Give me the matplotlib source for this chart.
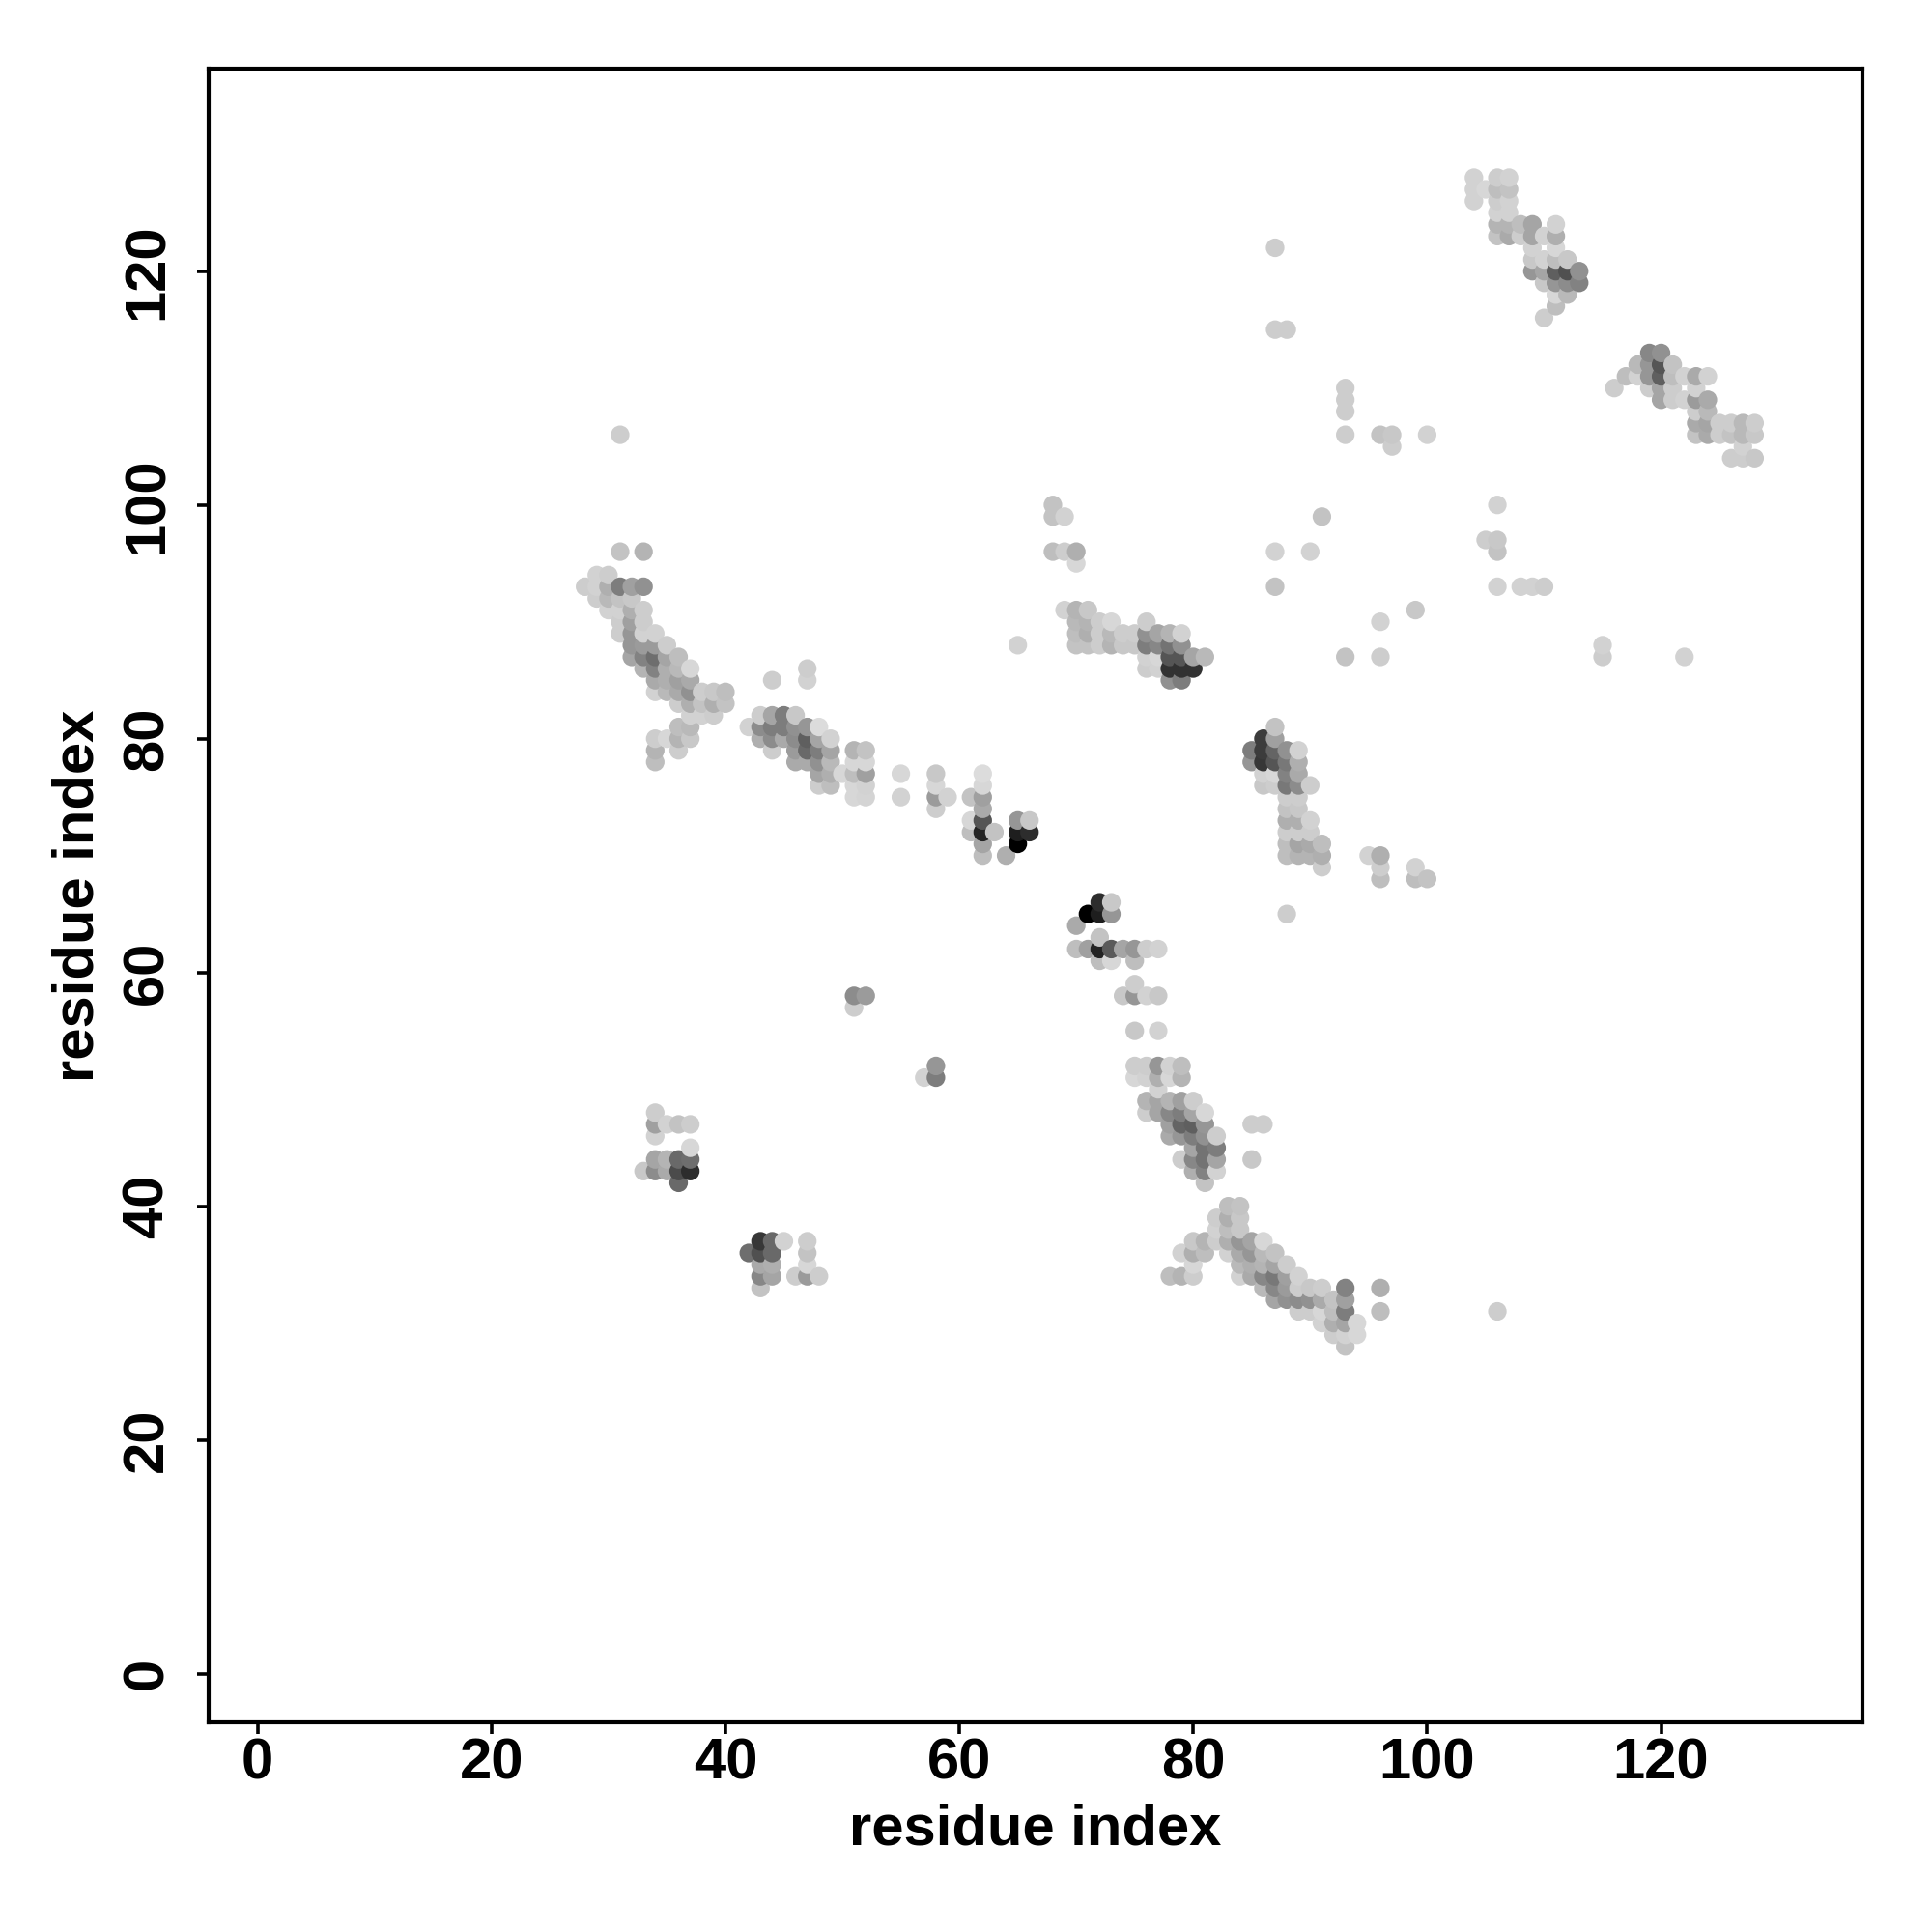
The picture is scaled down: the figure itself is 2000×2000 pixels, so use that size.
import matplotlib
matplotlib.use('Agg')
import matplotlib.pyplot as plt

# contacts: (residue x, residue y, grey level 0-255)
strand_a = [
    (31,96,195),(33,96,180),(29,94,210),(30,94,205),
    (28,93,205),(29,93,210),(30,93,175),(31,93,125),(32,93,160),(33,93,145),
    (29,92,205),(30,92,185),(31,92,195),(32,92,200),
    (30,91,210),(31,91,210),(32,91,175),(33,91,205),
    (31,90,205),(32,90,160),(33,90,205),
    (31,89,205),(32,89,150),(33,89,210),(34,89,210),
    (32,88,150),(33,88,155),(34,88,155),(35,88,205),
    (32,87,165),(33,87,130),(34,87,110),(35,87,165),(36,87,190),
    (33,86,180),(34,86,130),(35,86,175),(36,86,185),(37,86,215),
    (34,85,170),(35,85,175),(36,85,160),(37,85,170),
    (34,84,210),(35,84,185),(36,84,170),(37,84,145),(38,84,205),(39,84,200),(40,84,190),
    (36,83,205),(37,83,175),(38,83,195),(39,83,175),(40,83,195),
    (37,82,210),(38,82,210),(39,82,205),
    (36,81,190),(37,81,185),
    (34,80,205),(35,80,215),(36,80,180),(37,80,200),
    (34,79,180),(36,79,205),(34,78,190),
]
strand_b = [
    (44,85,205),(47,86,205),(47,85,210),
    (43,82,205),(44,82,165),(45,82,125),(46,82,200),
    (42,81,210),(43,81,140),(44,81,125),(45,81,125),(46,81,145),(47,81,150),(48,81,220),
    (43,80,175),(44,80,140),(45,80,170),(46,80,140),(47,80,95),(48,80,165),(49,80,210),
    (44,79,205),(46,79,155),(47,79,105),(48,79,125),(49,79,165),
    (46,78,170),(47,78,170),(48,78,145),(49,78,185),
    (48,77,165),(49,77,175),(50,77,215),(48,76,205),(49,76,190),
    (51,79,180),(52,79,195),(51,78,215),(52,78,215),(51,77,190),(52,77,160),
    (51,76,215),(52,76,210),(51,75,215),(52,75,212),
    (55,77,215),(55,75,210),
    (58,77,200),(58,76,215),(58,75,155),(58,74,205),(59,75,210),
    (61,75,195),(61,73,215),(61,72,190),
    (62,77,220),(62,76,215),(62,75,160),(62,74,170),(62,73,85),(62,72,35),(62,71,165),(62,70,190),
    (63,72,195),(64,70,175),
    (65,73,150),(65,72,30),(65,71,0),(66,73,200),(66,72,45),
]
strand_c = [
    (68,100,195),(68,99,195),(69,99,210),(68,96,190),(69,96,205),(70,96,175),(70,95,215),
    (69,91,210),(70,91,180),(71,91,200),
    (70,90,185),(71,90,180),(72,90,205),(73,90,215),(76,90,205),
    (70,89,190),(71,89,175),(72,89,205),(73,89,185),(74,89,205),(75,89,205),
    (76,89,145),(77,89,165),(78,89,180),(79,89,210),
    (70,88,195),(71,88,195),(72,88,205),(73,88,180),(74,88,200),(75,88,200),
    (76,88,125),(77,88,135),(78,88,115),(79,88,145),
    (76,87,210),(77,87,215),(78,87,85),(79,87,85),(80,87,165),(81,87,185),
    (76,86,205),(77,86,210),(78,86,50),(79,86,50),(80,86,50),
    (78,85,145),(79,85,125),
]
strand_d = [
    (87,81,195),(86,80,60),(87,80,160),
    (85,79,125),(86,79,60),(87,79,100),(88,79,145),(89,79,210),
    (85,78,150),(86,78,55),(87,78,85),(88,78,120),(89,78,175),
    (86,77,210),(87,77,215),(88,77,130),(89,77,170),
    (86,76,200),(87,76,205),(88,76,120),(89,76,140),(90,76,205),
    (88,75,205),(89,75,205),(88,74,195),(89,74,200),
    (88,73,175),(89,73,175),(90,73,210),
    (88,72,205),(89,72,205),(90,72,205),
    (88,71,190),(89,71,165),(90,71,170),(91,71,190),
    (88,70,190),(89,70,180),(90,70,180),(91,70,175),(91,69,205),
    (95,70,210),(96,70,175),(96,69,205),(96,68,190),
    (99,69,210),(99,68,190),(100,68,195),(88,65,205),
]
strand_e = [
    (104,128,210),(106,128,205),(107,128,210),
    (104,127,210),(105,127,215),(106,127,190),(107,127,195),
    (104,126,210),(106,126,205),(107,126,210),(106,125,210),(107,125,210),
    (106,124,180),(107,124,180),(108,124,190),(109,124,165),(111,124,210),
    (106,123,195),(107,123,170),(108,123,205),(109,123,165),(110,123,210),(111,123,175),
    (109,122,210),(111,122,215),
    (109,121,200),(110,121,210),(111,121,190),(112,121,200),
    (109,120,150),(110,120,165),(111,120,95),(112,120,80),(113,120,145),
    (110,119,200),(111,119,150),(112,119,140),(113,119,130),
    (111,118,215),(112,118,185),(111,117,190),(110,116,205),
]
strand_f = [
    (119,113,135),(120,113,145),
    (118,112,185),(119,112,150),(120,112,85),(121,112,195),
    (117,111,190),(118,111,210),(119,111,150),(120,111,95),(121,111,190),(122,111,210),(123,111,170),(124,111,210),
    (116,110,205),(119,110,205),(120,110,165),(121,110,205),(123,110,210),
    (120,109,165),(121,109,205),(122,109,210),(123,109,155),(124,109,170),
    (123,108,205),(124,108,185),
    (123,107,170),(124,107,165),(125,107,205),(126,107,205),(127,107,185),(128,107,205),
    (123,106,195),(124,106,170),(125,106,205),(126,106,195),(127,106,185),(128,106,200),
    (127,105,210),(126,104,205),(127,104,205),(128,104,200),
]
turn_g = [
    (72,66,45),(73,66,200),(71,65,0),(72,65,30),(73,65,150),(70,64,170),(72,63,195),
    (70,62,190),(71,62,160),(72,62,35),(73,62,90),(74,62,165),(75,62,150),(76,62,205),(77,62,210),
    (72,61,190),(73,61,215),(75,61,190),(75,59,205),
    (74,58,200),(75,58,150),(76,58,210),(77,58,200),(75,55,200),(77,55,210),
]
strand_h = [
    (75,52,205),(76,52,205),(77,52,150),(78,52,210),(79,52,190),
    (75,51,215),(76,51,210),(77,51,175),(78,51,215),(79,51,180),(77,50,210),
    (76,49,180),(77,49,165),(78,49,180),(79,49,160),(80,49,205),
    (76,48,205),(77,48,165),(78,48,135),(79,48,125),(80,48,165),(81,48,215),
    (78,47,160),(79,47,100),(80,47,95),(81,47,150),
    (78,46,170),(79,46,150),(80,46,125),(81,46,145),(82,46,205),
    (80,45,165),(81,45,115),(82,45,125),
    (79,44,205),(80,44,135),(81,44,115),(82,44,165),
    (80,43,175),(81,43,130),(82,43,210),(81,42,195),
    (85,47,205),(86,47,205),(85,44,200),
]
strand_i = [
    (83,40,190),(84,40,195),(82,39,205),(83,39,175),(84,39,200),
    (82,38,210),(83,38,190),(84,38,200),
    (80,37,200),(81,37,180),(82,37,205),(83,37,175),(84,37,150),(85,37,165),(86,37,215),
    (79,36,210),(80,36,175),(81,36,190),(83,36,210),(84,36,170),(85,36,150),(86,36,185),(87,36,195),
    (80,35,215),(84,35,185),(85,35,175),(86,35,180),(87,35,165),(88,35,205),
    (78,34,190),(79,34,180),(80,34,205),(84,34,210),(85,34,170),(86,34,135),(87,34,120),(88,34,160),(89,34,210),
    (86,33,185),(87,33,135),(88,33,155),(89,33,205),(90,33,200),(91,33,205),(93,33,130),(96,33,175),
    (87,32,165),(88,32,145),(89,32,140),(90,32,145),(91,32,170),(92,32,195),(93,32,160),
    (89,31,205),(90,31,205),(91,31,215),(92,31,190),(93,31,125),(96,31,190),(106,31,205),
    (91,30,210),(92,30,175),(93,30,165),(94,30,215),
    (92,29,205),(93,29,210),(94,29,215),(93,28,195),
]
patch_j = [
    (34,48,205),(34,47,160),(35,47,210),(36,47,195),(37,47,205),(34,46,210),(37,45,215),
    (34,44,165),(35,44,180),(36,44,105),(37,44,110),
    (33,43,200),(34,43,140),(35,43,170),(36,43,75),(37,43,45),(36,42,105),
]
patch_k = [
    (43,37,55),(44,37,105),(45,37,210),(47,37,205),
    (42,36,110),(43,36,80),(44,36,105),(47,36,195),
    (43,35,170),(44,35,175),(47,35,215),
    (43,34,135),(44,34,165),(46,34,205),(47,34,155),(48,34,205),(43,33,195),
]
isolated = [
    (87,122,205),(87,115,205),(88,115,205),
    (93,110,205),(93,109,205),(93,108,205),(93,106,205),
    (96,106,195),(97,106,200),(97,105,205),(100,106,210),(31,106,205),
    (106,100,210),(105,97,205),(106,97,200),(106,96,195),
    (106,93,210),(108,93,210),(109,93,210),(110,93,205),
    (91,99,195),(87,96,210),(90,96,210),(87,93,195),
    (99,91,200),(96,90,210),(93,87,195),(96,87,205),(65,88,210),
    (115,88,210),(115,87,205),(122,87,210),
    (51,58,140),(52,58,155),(51,57,205),(57,51,210),(58,52,150),(58,51,125),
]
ticks = [0, 20, 40, 60, 80, 100, 120]

contacts = (strand_a + strand_b + strand_c + strand_d + strand_e + strand_f
            + turn_g + strand_h + strand_i + patch_j + patch_k + isolated)
# later points sit over earlier ones: left to right, bottom to top
contacts = sorted(contacts, key=lambda c: (c[0], c[1]))
xs = [c[0] for c in contacts]
ys = [c[1] for c in contacts]
colors = [str(c[2] / 255) for c in contacts]

plt.rcParams['font.family'] = ['Liberation Sans', 'DejaVu Sans']
plt.rcParams['font.weight'] = 'bold'

fig = plt.figure(figsize=(10, 10), dpi=200)
ax = fig.add_axes([0.1079, 0.1083, 0.856, 0.856])
ax.scatter(xs, ys, s=48, c=colors, linewidths=0)

ax.set_xlim(-4.2, 137.2)
ax.set_ylim(-4.2, 137.3)
ax.set_xticks(ticks)
ax.set_yticks(ticks)
ax.tick_params(length=4.2, width=1.3, labelsize=21.5)
ax.tick_params(axis='x', pad=1.2)
ax.tick_params(axis='y', pad=8.5)
for label in ax.get_yticklabels():
    label.set_rotation(90)
    label.set_va('center')
for spine in ax.spines.values():
    spine.set_linewidth(1.5)

ax.set_xlabel('residue index', fontsize=21.5, fontweight='bold', labelpad=4.8)
ax.set_ylabel('residue index', fontsize=21.5, fontweight='bold', labelpad=6.2)

fig.savefig('out.png', dpi=200)
plt.close(fig)
